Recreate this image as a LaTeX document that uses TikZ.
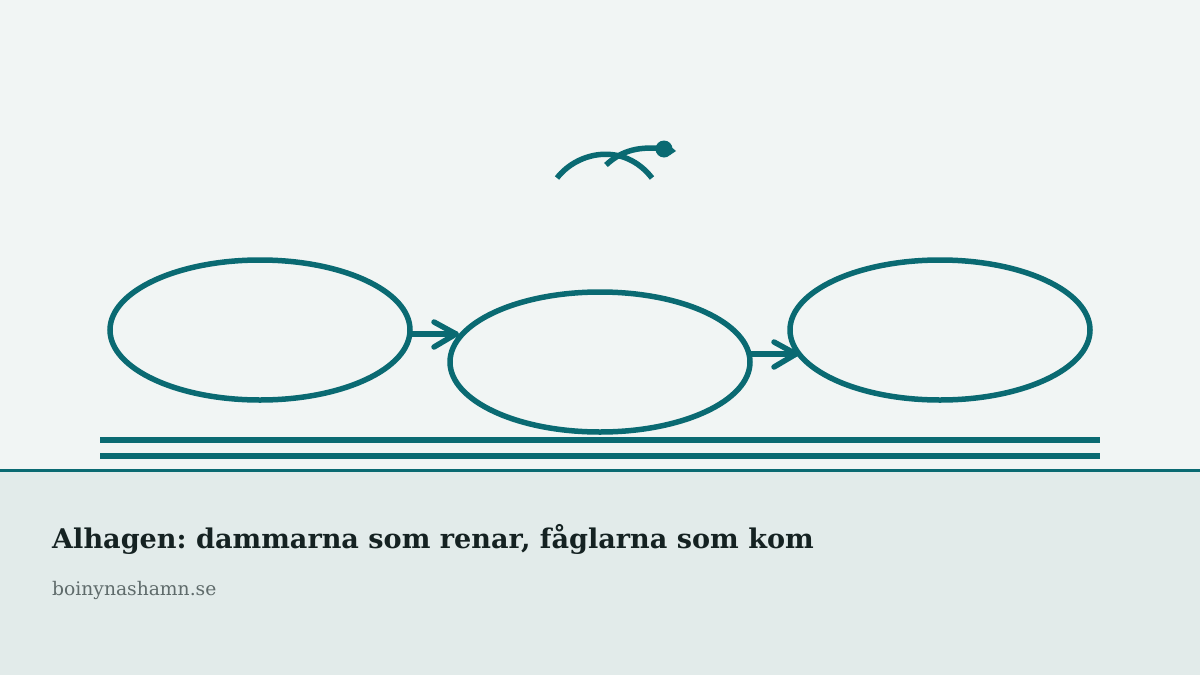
\documentclass[tikz,border=0pt]{standalone}
\usepackage{fontspec}
\setmainfont{DejaVu Serif}
\frenchspacing
\usetikzlibrary{shapes.geometric,calc}
\definecolor{teal}{HTML}{0A6A72}
\definecolor{bgtop}{HTML}{F1F5F4}
\definecolor{bgbot}{HTML}{E2EBEA}
\definecolor{titlec}{HTML}{152222}
\definecolor{subc}{HTML}{5F6B6B}
\begin{document}
\begin{tikzpicture}[x=1pt,y=-1pt,
  pond/.style={draw=teal,line width=5.5pt,ellipse,minimum width=300pt,minimum height=140pt,inner sep=0pt},
  flow/.style={draw=teal,line width=5.5pt,line cap=round,line join=round},
  bank/.style={draw=teal,line width=5.5pt},
  bird/.style={draw=teal,line width=5.5pt}]
\fill[bgtop] (0,0) rectangle (1200,470);
\fill[bgbot] (0,470) rectangle (1200,675);
\useasboundingbox (0,0) rectangle (1200,675);
\draw[teal,line width=3pt] (0,470) -- (1200,470);
\node[pond] (p1) at (260,330) {};
\node[pond] (p2) at (600,362) {};
\node[pond] (p3) at (940,330) {};
\coordinate (a1s) at (410,334);
\coordinate (a1e) at (456,334);
\coordinate (a2s) at (750,354);
\coordinate (a2e) at (796,354);
\draw[flow] (a1s) -- (a1e);
\draw[flow] ($(a1e)+(-22,-12)$) -- (a1e) -- ($(a1e)+(-22,13)$);
\draw[flow] (a2s) -- (a2e);
\draw[flow] ($(a2e)+(-22,-12)$) -- (a2e) -- ($(a2e)+(-22,13)$);
\coordinate (b1) at (100,440);
\coordinate (b2) at (1100,440);
\coordinate (b3) at (100,456);
\coordinate (b4) at (1100,456);
\draw[bank] (b1) -- (b2);
\draw[bank] (b3) -- (b4);
\coordinate (w1) at (557,178);
\coordinate (w2) at (652,178);
\coordinate (w3) at (606,165);
\coordinate (w4) at (664,149);
\draw[bird] (w1) .. controls (578,151) and (624,142) .. (w2);
\draw[bird] (w3) .. controls (622,150) and (640,146) .. (w4);
\fill[teal] (w4) circle (8.5);
\fill[teal] (670,146) -- (676,151) -- (670,155) -- cycle;
\node[anchor=base west,inner sep=0pt,font=\fontsize{27.1}{32}\selectfont\bfseries,text=titlec] (title) at (52,548) {Alhagen: dammarna som renar, fåglarna som kom};
\node[anchor=base west,inner sep=0pt,font=\fontsize{18.7}{22}\selectfont,text=subc] (sub) at (52,595) {boinynashamn.se};
\end{tikzpicture}
\end{document}
